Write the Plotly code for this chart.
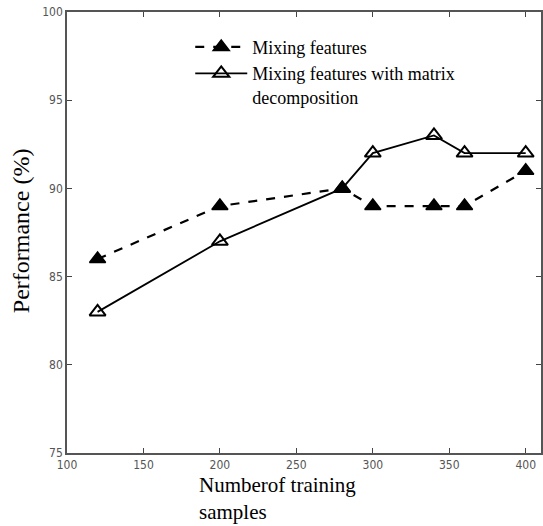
import plotly.graph_objects as go

samples = [120, 200, 280, 300, 340, 360, 400]
mixing = [86, 89, 90, 89, 89, 89, 91]
mixing_md = [83, 87, 90, 92, 93, 92, 92]
x_ticks = [100, 150, 200, 250, 300, 350, 400]
y_ticks = [75, 80, 85, 90, 95, 100]

serif = "Liberation Serif, Times New Roman, serif"

fig = go.Figure()
fig.add_trace(go.Scatter(
    x=samples, y=mixing, mode="lines+markers", name="Mixing features",
    line=dict(color="black", width=2.2, dash="dash"),
    marker=dict(symbol="triangle-up", size=14, color="black",
                line=dict(color="black", width=1.5)),
))
fig.add_trace(go.Scatter(
    x=samples, y=mixing_md, mode="lines+markers",
    name="Mixing features with matrix<br>decomposition",
    line=dict(color="black", width=1.8),
    marker=dict(symbol="triangle-up-open", size=14, color="black",
                line=dict(color="black", width=2)),
))

axis_common = dict(
    showgrid=False, zeroline=False, showline=True, linecolor="#555555",
    linewidth=1.5, mirror="ticks", ticks="inside", ticklen=5, automargin=False,
    tickcolor="#444444",
    tickfont=dict(family="DejaVu Sans Condensed, Liberation Sans Narrow, sans-serif",
                  size=12, color="#555555"),
)
fig.update_xaxes(range=[100, 410], tickvals=x_ticks, **axis_common)
fig.update_yaxes(range=[75, 100], tickvals=y_ticks, **axis_common)

fig.add_annotation(
    text="Numberof training<br>samples", xref="paper", yref="paper",
    x=0.274, y=-0.04, xanchor="left", yanchor="top", align="left",
    showarrow=False, font=dict(family=serif, size=21, color="black"),
)
fig.add_annotation(
    text="Performance (%)", xref="paper", yref="paper",
    x=-0.097, y=0.503, xanchor="center", yanchor="middle", textangle=-90,
    showarrow=False, font=dict(family=serif, size=24, color="black"),
)

fig.update_layout(
    width=543, height=526,
    margin=dict(l=67, r=2, t=12, b=73),
    plot_bgcolor="white", paper_bgcolor="white",
    showlegend=True,
    legend=dict(x=0.26, y=0.962, xanchor="left", yanchor="top",
                bgcolor="rgba(0,0,0,0)", font=dict(family=serif, size=18, color="black"),
                valign="top", tracegroupgap=0, itemwidth=52),
)
fig.write_html("out.html", config={"displayModeBar": False},
               post_script="document.body.style.margin='0';document.body.style.overflow='hidden';")
